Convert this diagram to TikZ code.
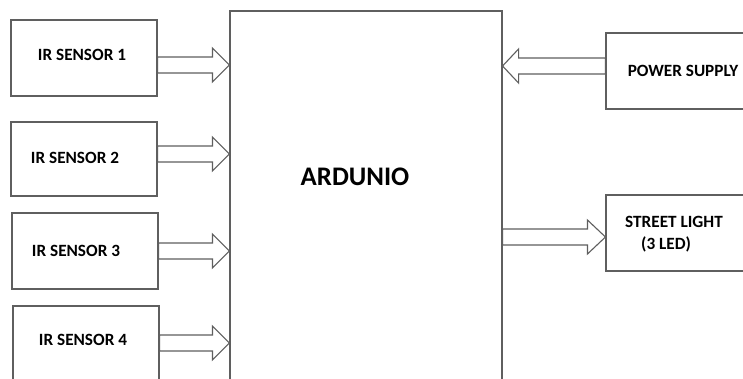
\documentclass[tikz,border=0pt]{standalone}
\usepackage{fontspec}
\setmainfont{Carlito}
\usetikzlibrary{calc}
\definecolor{ln}{RGB}{95,95,95}
\tikzset{
  box/.style={draw=ln, line width=1.1pt, fill=white, inner sep=0pt, minimum width=146pt, minimum height=76pt},
  lbl/.style={font=\bfseries\fontsize{17.2}{22}\selectfont, text=black, align=left},
  blk/.style={draw=ln, line width=1.1pt, fill=white, line join=miter},
}
\newcommand\blkarrow[4]{%
  \draw[blk] let \p1=(#1), \p2=(#2) in
    (\x1,{#3-8}) -- ({\x2-(#4)},{#3-8}) -- ({\x2-(#4)},{#3-17}) -- (\x2,#3)
    -- ({\x2-(#4)},{#3+17}) -- ({\x2-(#4)},{#3+8}) -- (\x1,{#3+8}) -- cycle;}
\begin{document}
\begin{tikzpicture}[x=1pt,y=-1pt]
\useasboundingbox (0,0) rectangle (743,378);
\fill[white] (0,0) rectangle (743,378);
\clip (0,0) rectangle (743,378);
\node[box, label={[lbl,xshift=-2pt,yshift=3pt]center:IR SENSOR 1}] (s1) at (84,58) {};
\node[box, minimum height=74pt, label={[lbl,xshift=-9pt,yshift=1pt]center:IR SENSOR 2}] (s2) at (84,159) {};
\node[box, label={[lbl,xshift=-9pt]center:IR SENSOR 3}] (s3) at (85,251) {};
\node[box, minimum height=80pt, label={[lbl,xshift=-3pt,yshift=6pt]center:IR SENSOR 4}] (s4) at (86,346) {};
\node[box, minimum width=272pt, minimum height=380pt, label={[lbl,font=\bfseries\fontsize{26.8}{32}\selectfont,yshift=24pt,xshift=-11pt]center:ARDUNIO}] (ard) at (366,201) {};
\node[box, minimum width=154pt, label={[lbl]center:POWER SUPPLY}] (pw) at (683,71) {};
\node[box, minimum width=154pt, label={[lbl,xshift=-9pt,yshift=-1pt]center:STREET LIGHT\\\hspace{16pt}(3 LED)}] (st) at (683,233) {};
\blkarrow{s1.east}{ard.west}{65}{17}
\blkarrow{s2.east}{ard.west}{154}{17}
\blkarrow{s3.east}{ard.west}{251}{17}
\blkarrow{s4.east}{ard.west}{343}{17}
\blkarrow{pw.west}{ard.east}{66}{-16}
\blkarrow{ard.east}{st.west}{237}{18}
\end{tikzpicture}
\end{document}
